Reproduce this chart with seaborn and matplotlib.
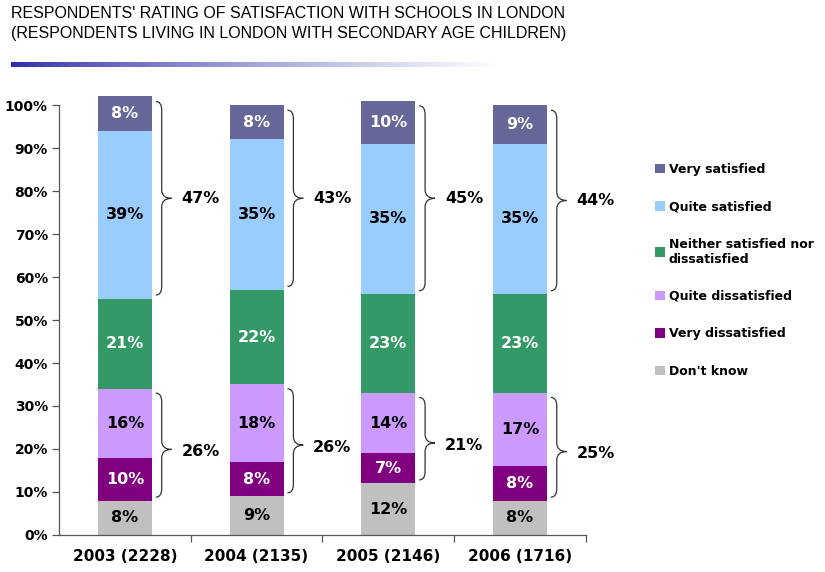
"""
Stacked bar chart: satisfaction with schools in London, 2003-2006.
Saves out.png (825x572).
"""

import matplotlib
matplotlib.use("Agg")

import numpy as np
import matplotlib.pyplot as plt
from matplotlib.path import Path
from matplotlib.patches import PathPatch, Patch
import seaborn as sns

# --- data ---
years = ["2003 (2228)", "2004 (2135)", "2005 (2146)", "2006 (1716)"]
dont_know = [8, 9, 12, 8]
very_dis = [10, 8, 7, 8]
quite_dis = [16, 18, 14, 17]
neither = [21, 22, 23, 23]
quite_sat = [39, 35, 35, 35]
very_sat = [8, 8, 10, 9]
sat_total = [47, 43, 45, 44]
dis_total = [26, 26, 21, 25]

# bottom -> top
series = [
    ("Don't know", dont_know, "#C0C0C0", "black"),
    ("Very dissatisfied", very_dis, "#800080", "white"),
    ("Quite dissatisfied", quite_dis, "#CC99FF", "black"),
    ("Neither satisfied nor\ndissatisfied", neither, "#339966", "white"),
    ("Quite satisfied", quite_sat, "#99CCFF", "black"),
    ("Very satisfied", very_sat, "#666699", "white"),
]

sns.set_style("white")
plt.rcParams["font.family"] = ["DejaVu Sans"]
plt.rcParams["text.color"] = "black"
plt.rcParams["xtick.labelcolor"] = "black"
plt.rcParams["ytick.labelcolor"] = "black"

fig = plt.figure(figsize=(8.25, 5.72), dpi=100)
ax = fig.add_axes([0.0715, 0.0647, 0.6385, 0.7705])

BAR_W = 0.41
x = np.arange(len(years))
vals = np.array([s[1] for s in series], dtype=float)
tops = np.cumsum(vals, axis=0)
bottoms = tops - vals

# seaborn has no stacked bars: draw cumulative totals from the top down
for i in range(len(series) - 1, -1, -1):
    sns.barplot(x=years, y=tops[i], color=series[i][2], width=BAR_W,
                saturation=1, ax=ax, zorder=2)
for p in ax.patches:
    p.set_linewidth(0)
    p.set_clip_on(False)

# segment labels
for i, (name, v, col, tcol) in enumerate(series):
    for j in range(len(years)):
        ax.text(x[j], bottoms[i, j] + v[j] / 2, f"{v[j]}%", ha="center",
                va="center", color=tcol, fontsize=11.5, fontweight="bold",
                zorder=3)


def brace(ax, xc, y0, y1, ym):
    """Draw a right-facing curly brace next to a bar, from y0 to y1."""
    xl, xm, xr = xc + 0.235, xc + 0.28, xc + 0.355
    r = 2.0
    verts = [(xl, y1), (xm, y1), (xm, y1 - r),
             (xm, ym + r), (xm, ym), (xr, ym),
             (xm, ym), (xm, ym - r),
             (xm, y0 + r), (xm, y0), (xl, y0)]
    codes = [Path.MOVETO, Path.CURVE3, Path.CURVE3,
             Path.LINETO, Path.CURVE3, Path.CURVE3,
             Path.CURVE3, Path.CURVE3,
             Path.LINETO, Path.CURVE3, Path.CURVE3]
    ax.add_patch(PathPatch(Path(verts, codes), fill=False, lw=0.9,
                           edgecolor="#333333", clip_on=False))


for j in range(len(years)):
    # satisfied: quite + very satisfied
    lo, hi = tops[3, j] + 0.8, tops[5, j] - 1.2
    brace(ax, x[j], lo, hi, (lo + hi) / 2)
    ax.text(x[j] + 0.43, (lo + hi) / 2, f"{sat_total[j]}%", ha="left",
            va="center", fontsize=11.5, fontweight="bold")
    # dissatisfied: very + quite dissatisfied
    lo, hi = tops[0, j] + 0.8, tops[2, j] - 1.0
    brace(ax, x[j], lo, hi, (lo + hi) / 2 - 1)
    ax.text(x[j] + 0.43, (lo + hi) / 2 - 1.5, f"{dis_total[j]}%", ha="left",
            va="center", fontsize=11.5, fontweight="bold")

ax.set_xlim(-0.5, 3.5)
ax.set_ylim(0, 102.5)
ax.set_yticks(range(0, 101, 10))
ax.set_yticklabels([f"{t}%" for t in range(0, 101, 10)],
                   fontsize=10, fontweight="bold")
ax.set_xticks(x)
ax.set_xticklabels(years, fontsize=11, fontweight="bold")
ax.set_xticks([0.5, 1.5, 2.5, 3.5], minor=True)
ax.tick_params(axis="x", which="major", length=0, pad=10)
ax.tick_params(axis="x", which="minor", length=5, width=0.9,
               direction="out", color="#555555", bottom=True)
ax.tick_params(axis="y", length=5, width=0.9, direction="out",
               color="#555555", left=True, pad=3)
ax.set_xlabel("")
ax.set_ylabel("")
for s in ["top", "right"]:
    ax.spines[s].set_visible(False)
for s in ["left", "bottom"]:
    ax.spines[s].set_color("#555555")
    ax.spines[s].set_linewidth(0.9)
ax.spines["left"].set_bounds(0, 100)

# legend, top entry first
handles = [Patch(facecolor=s[2], edgecolor="none") for s in series[::-1]]
labels = [s[0] for s in series[::-1]]
leg = ax.legend(handles, labels, loc="upper left",
                bbox_to_anchor=(1.11, 0.87), frameon=False,
                handlelength=0.8, handleheight=0.8, handletextpad=0.3,
                labelspacing=1.95, prop={"size": 9, "weight": "bold"})

# title with fading blue rule underneath
fig.text(0.013, 0.99, "RESPONDENTS' RATING OF SATISFACTION WITH SCHOOLS IN LONDON\n"
         "(RESPONDENTS LIVING IN LONDON WITH SECONDARY AGE CHILDREN)",
         ha="left", va="top", fontsize=11.5, linespacing=1.45,
         family=["Liberation Sans Narrow", "Liberation Sans", "DejaVu Sans"])

grad = np.linspace(0, 1, 256) ** 0.8
c0 = np.array([0.17, 0.17, 0.66])
img = c0[None, :] * (1 - grad[:, None]) + grad[:, None]
gax = fig.add_axes([11 / 825, 1 - 67 / 572, 490 / 825, 5 / 572])
gax.imshow(img[None, :, :], aspect="auto")
gax.axis("off")

plt.savefig("out.png", dpi=100)
plt.close()
